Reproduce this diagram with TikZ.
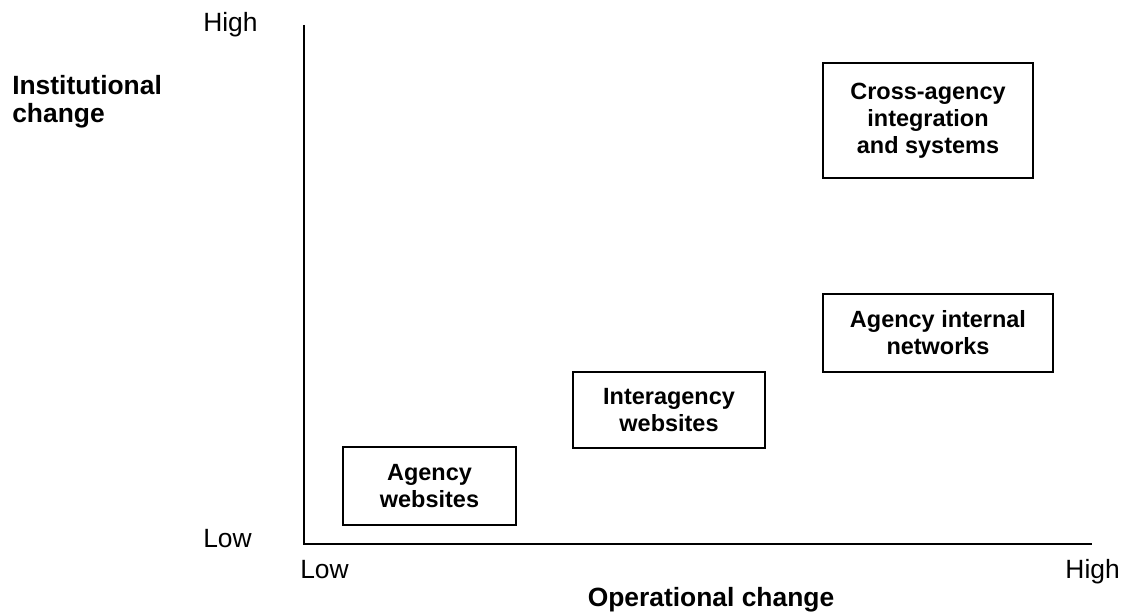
\documentclass[tikz,border=0pt]{standalone}
\usepackage{fontspec}
\setmainfont{Liberation Sans}
\usepackage{tikz}

\begin{document}
\begin{tikzpicture}[x=0.75pt, y=-0.75pt,
		change box/.style={draw, line width=1.4pt, align=center, inner sep=0pt,
			font=\bfseries\fontsize{17.6}{20.3}\selectfont},
		axis label/.style={inner sep=0pt, font=\fontsize{19.8}{22.8}\selectfont},
		axis title/.style={inner sep=0pt, align=left, font=\bfseries\fontsize{19.8}{21}\selectfont}]
			\useasboundingbox (0,0) rectangle (1123,613);
			% axes
			\coordinate (top) at (304,25);
			\coordinate (origin) at (304,544);
			\coordinate (right) at (1092,544);
			\draw[line width=1.4pt] (top) -- (origin) -- (right);
			% low and high ends
			\node[axis label, anchor=base west] (yhigh) at (203,32) {High};
			\node[axis label, anchor=base west] (ylow) at (203,547) {Low};
			\node[axis label, anchor=base west] (xlow) at (300,578) {Low};
			\node[axis label, anchor=base east] (xhigh) at (1120,578) {High};
			% axis titles
			\node[axis title, anchor=north west] (ytitle) at (12,75) {Institutional\\change};
			\node[axis title, anchor=base] (xtitle) at (711,606) {Operational change};
			% the four kinds of sites
			\node[change box, minimum width=129.8pt, minimum height=58.5pt]
				(agency) at (429.5,486) {Agency\\websites};
			\node[change box, minimum width=144pt, minimum height=57pt]
				(interagency) at (669,410) {Interagency\\websites};
			\node[change box, minimum width=172.5pt, minimum height=58.5pt]
				(internal) at (938,333) {Agency internal\\networks};
			\node[change box, minimum width=157.5pt, minimum height=86.3pt]
				(cross) at (928,120.5) {Cross-agency\\integration\\and systems};
		\end{tikzpicture}
\end{document}
